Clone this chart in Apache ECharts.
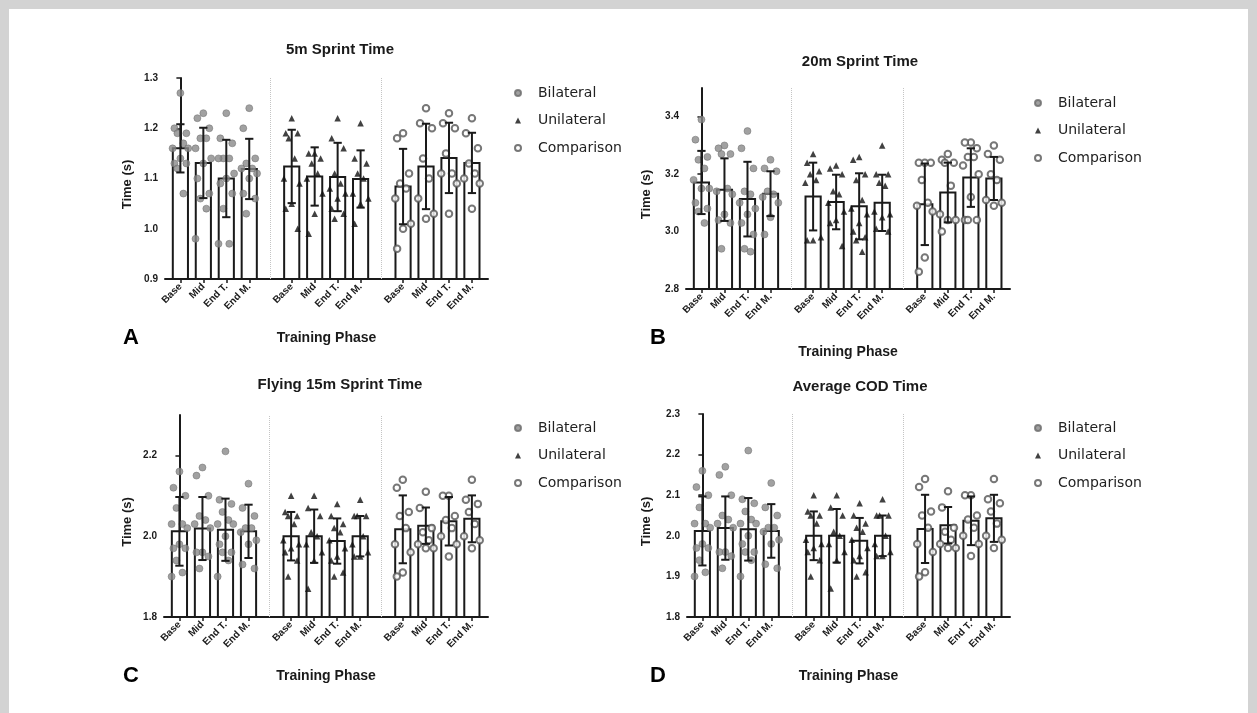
<!DOCTYPE html>
<html><head><meta charset="utf-8">
<script src="https://cdn.jsdelivr.net/npm/echarts@6/dist/echarts.min.js"></script>
<style>html,body{margin:0;padding:0;background:#fff}#c{width:1257px;height:713px}</style>
</head><body><div id="c"></div><script>
// ---------- data ----------
const phases = ['Base', 'Mid', 'End T.', 'End M.'];
const groupNames = ['Bilateral', 'Unilateral', 'Comparison'];
const panelTitles = ['5m Sprint Time', '20m Sprint Time', 'Flying 15m Sprint Time', 'Average COD Time'];
const panelLetters = ['A', 'B', 'C', 'D'];

// y ranges and tick labels
const sprint5Range = [0.9, 1.3];   const sprint5Ticks = [0.9, 1.0, 1.1, 1.2, 1.3];
const sprint20Range = [2.8, 3.5];  const sprint20Ticks = [2.8, 3.0, 3.2, 3.4];
const flying15Range = [1.8, 2.3];  const flying15Ticks = [1.8, 2.0, 2.2];
const codRange = [1.8, 2.3];       const codTicks = [1.8, 1.9, 2.0, 2.1, 2.2, 2.3];

// Panel A: 5m sprint (rows: Bilateral, Unilateral, Comparison; cols: phases)
const sprint5Means = [[1.160, 1.131, 1.100, 1.119], [1.124, 1.104, 1.103, 1.099], [1.084, 1.124, 1.141, 1.131]];
const sprint5SD = [[0.048, 0.070, 0.077, 0.060], [0.073, 0.058, 0.068, 0.057], [0.075, 0.085, 0.070, 0.060]];
const sprint5Bilateral = [
  [1.27, 1.20, 1.19, 1.19, 1.17, 1.16, 1.16, 1.14, 1.13, 1.13, 1.12, 1.07],
  [1.23, 1.22, 1.20, 1.18, 1.18, 1.16, 1.14, 1.13, 1.10, 1.07, 1.06, 1.04, 0.98],
  [1.23, 1.18, 1.17, 1.14, 1.14, 1.14, 1.11, 1.10, 1.09, 1.07, 1.04, 0.97, 0.97],
  [1.24, 1.20, 1.14, 1.13, 1.12, 1.12, 1.11, 1.10, 1.07, 1.06, 1.03]];
const sprint5Unilateral = [
  [1.22, 1.19, 1.19, 1.18, 1.14, 1.10, 1.09, 1.05, 1.04, 1.00],
  [1.15, 1.15, 1.14, 1.13, 1.11, 1.10, 1.07, 1.03, 0.99],
  [1.22, 1.18, 1.16, 1.11, 1.09, 1.08, 1.07, 1.06, 1.04, 1.03, 1.02],
  [1.21, 1.14, 1.13, 1.11, 1.10, 1.07, 1.06, 1.05, 1.01]];
const sprint5Comparison = [
  [1.19, 1.18, 1.11, 1.09, 1.08, 1.06, 1.01, 1.00, 0.96],
  [1.24, 1.21, 1.20, 1.14, 1.10, 1.06, 1.03, 1.02],
  [1.23, 1.21, 1.20, 1.15, 1.11, 1.11, 1.09, 1.03],
  [1.22, 1.19, 1.16, 1.13, 1.11, 1.10, 1.09, 1.04]];

// Panel B: 20m sprint
const sprint20Means = [[3.171, 3.146, 3.113, 3.132], [3.122, 3.103, 3.088, 3.100], [3.095, 3.136, 3.188, 3.185]];
const sprint20SD = [[0.110, 0.109, 0.130, 0.078], [0.118, 0.095, 0.115, 0.098], [0.142, 0.104, 0.102, 0.075]];
const sprint20Bilateral = [
  [3.39, 3.32, 3.26, 3.25, 3.22, 3.18, 3.15, 3.15, 3.10, 3.08, 3.07, 3.03],
  [3.30, 3.29, 3.27, 3.27, 3.15, 3.14, 3.13, 3.06, 3.04, 3.03, 2.94],
  [3.35, 3.29, 3.22, 3.14, 3.13, 3.10, 3.08, 3.06, 3.03, 2.99, 2.94, 2.93],
  [3.25, 3.22, 3.21, 3.14, 3.13, 3.12, 3.10, 3.05, 2.99]];
const sprint20Unilateral = [
  [3.27, 3.24, 3.21, 3.20, 3.18, 3.17, 2.98, 2.97, 2.97],
  [3.23, 3.22, 3.20, 3.14, 3.13, 3.10, 3.07, 3.04, 3.03, 2.95],
  [3.26, 3.25, 3.20, 3.18, 3.11, 3.08, 3.06, 3.03, 3.00, 2.98, 2.97, 2.93],
  [3.30, 3.20, 3.20, 3.17, 3.16, 3.07, 3.06, 3.05, 3.01, 3.00]];
const sprint20Comparison = [
  [3.24, 3.24, 3.24, 3.18, 3.10, 3.09, 3.07, 2.91, 2.86],
  [3.27, 3.25, 3.24, 3.24, 3.16, 3.06, 3.04, 3.04, 3.00],
  [3.31, 3.31, 3.29, 3.26, 3.26, 3.23, 3.20, 3.12, 3.04, 3.04, 3.04],
  [3.30, 3.27, 3.25, 3.20, 3.18, 3.11, 3.10, 3.09]];

// Panel C: flying 15m sprint
const flying15Means = [[2.012, 2.019, 2.016, 2.012], [2.000, 2.000, 1.988, 2.000], [2.017, 2.026, 2.037, 2.043]];
const flying15SD = [[0.085, 0.078, 0.077, 0.066], [0.060, 0.066, 0.056, 0.050], [0.084, 0.045, 0.060, 0.058]];
const flying15Bilateral = [
  [2.16, 2.12, 2.10, 2.07, 2.03, 2.03, 2.02, 1.98, 1.97, 1.97, 1.94, 1.91, 1.90],
  [2.17, 2.15, 2.10, 2.05, 2.04, 2.03, 2.02, 1.96, 1.96, 1.95, 1.92],
  [2.21, 2.09, 2.08, 2.06, 2.04, 2.03, 2.03, 2.00, 1.98, 1.96, 1.96, 1.94, 1.90],
  [2.13, 2.07, 2.05, 2.02, 2.02, 2.01, 1.99, 1.98, 1.93, 1.92]];
const flying15Unilateral = [
  [2.10, 2.06, 2.05, 2.05, 2.03, 1.99, 1.98, 1.97, 1.96, 1.94, 1.90],
  [2.10, 2.07, 2.05, 2.01, 2.00, 1.98, 1.96, 1.94, 1.87],
  [2.08, 2.05, 2.03, 2.02, 2.01, 1.99, 1.97, 1.95, 1.94, 1.91, 1.90],
  [2.09, 2.05, 2.05, 2.05, 2.00, 1.98, 1.96, 1.95, 1.95]];
const flying15Comparison = [
  [2.14, 2.12, 2.06, 2.05, 2.02, 1.98, 1.96, 1.91, 1.90],
  [2.11, 2.07, 2.02, 2.01, 1.99, 1.98, 1.97, 1.97],
  [2.10, 2.10, 2.05, 2.04, 2.02, 2.00, 1.98, 1.95],
  [2.14, 2.09, 2.08, 2.06, 2.03, 2.00, 1.99, 1.97]];

// Panel D: average COD (drawn identical to panel C in the source figure)
const codMeans = [[2.012, 2.019, 2.016, 2.012], [2.000, 2.000, 1.988, 2.000], [2.017, 2.026, 2.037, 2.043]];
const codSD = [[0.085, 0.078, 0.077, 0.066], [0.060, 0.066, 0.056, 0.050], [0.084, 0.045, 0.060, 0.058]];
const codBilateral = [
  [2.16, 2.12, 2.10, 2.07, 2.03, 2.03, 2.02, 1.98, 1.97, 1.97, 1.94, 1.91, 1.90],
  [2.17, 2.15, 2.10, 2.05, 2.04, 2.03, 2.02, 1.96, 1.96, 1.95, 1.92],
  [2.21, 2.09, 2.08, 2.06, 2.04, 2.03, 2.03, 2.00, 1.98, 1.96, 1.96, 1.94, 1.90],
  [2.13, 2.07, 2.05, 2.02, 2.02, 2.01, 1.99, 1.98, 1.93, 1.92]];
const codUnilateral = [
  [2.10, 2.06, 2.05, 2.05, 2.03, 1.99, 1.98, 1.97, 1.96, 1.94, 1.90],
  [2.10, 2.07, 2.05, 2.01, 2.00, 1.98, 1.96, 1.94, 1.87],
  [2.08, 2.05, 2.03, 2.02, 2.01, 1.99, 1.97, 1.95, 1.94, 1.91, 1.90],
  [2.09, 2.05, 2.05, 2.05, 2.00, 1.98, 1.96, 1.95, 1.95]];
const codComparison = [
  [2.14, 2.12, 2.06, 2.05, 2.02, 1.98, 1.96, 1.91, 1.90],
  [2.11, 2.07, 2.02, 2.01, 1.99, 1.98, 1.97, 1.97],
  [2.10, 2.10, 2.05, 2.04, 2.02, 2.00, 1.98, 1.95],
  [2.14, 2.09, 2.08, 2.06, 2.03, 2.00, 1.99, 1.97]];

// ---------- layout / style ----------
const panels = [
  { means: sprint5Means, sd: sprint5SD, pts: [sprint5Bilateral, sprint5Unilateral, sprint5Comparison], range: sprint5Range, ticks: sprint5Ticks },
  { means: sprint20Means, sd: sprint20SD, pts: [sprint20Bilateral, sprint20Unilateral, sprint20Comparison], range: sprint20Range, ticks: sprint20Ticks },
  { means: flying15Means, sd: flying15SD, pts: [flying15Bilateral, flying15Unilateral, flying15Comparison], range: flying15Range, ticks: flying15Ticks },
  { means: codMeans, sd: codSD, pts: [codBilateral, codUnilateral, codComparison], range: codRange, ticks: codTicks }
];
const layout = [
  { grid: { left: 165, top: 78, width: 323, height: 201 }, title: [340, 50], letter: [131, 338], legend: [509, 80], nameGap: 31, xNameGap: 52 },
  { grid: { left: 686, top: 88, width: 324, height: 201 }, title: [860, 62], letter: [658, 338], legend: [1029, 90], nameGap: 33, xNameGap: 56 },
  { grid: { left: 164, top: 415, width: 324, height: 202 }, title: [340, 385], letter: [131, 676], legend: [509, 415], nameGap: 30, xNameGap: 52 },
  { grid: { left: 687, top: 414, width: 323, height: 203 }, title: [860, 387], letter: [658, 676], legend: [1029, 415], nameGap: 34, xNameGap: 52 }
];
const GROUP_STEP = 4.85, X_MIN = -0.67, X_MAX = 13.4, BAR_W = 0.66, CAP_W = 0.36;
const JITTER = [0, -0.26, 0.26, -0.13, 0.13, -0.34, 0.34];
const INK = '#1a1a1a';
const FONT = 'Liberation Sans';

const xPos = (g, i) => g * GROUP_STEP + i;
const positions = [];
for (let g = 0; g < 3; g++) for (let i = 0; i < 4; i++) positions.push(+xPos(g, i).toFixed(3));
const labelFor = v => {
  let best = 0, d = Infinity;
  positions.forEach((p, k) => { if (Math.abs(p - v) < d) { d = Math.abs(p - v); best = k; } });
  return phases[best % 4];
};

const symbolStyle = [
  { symbol: 'circle', symbolSize: 7, itemStyle: { color: '#8a8a8a', borderColor: '#6a6a6a', borderWidth: 0.6 } },
  { symbol: 'triangle', symbolSize: 6.5, itemStyle: { color: '#111' } },
  { symbol: 'emptyCircle', symbolSize: 6.5, itemStyle: { color: '#555', borderWidth: 1.5 } }
];

function renderBar(params, api) {
  const x = api.value(0), m = api.value(1);
  const top = api.coord([x, m]);
  const cs = params.coordSys;
  const baseY = cs.y + cs.height;
  const w = api.size([BAR_W, 0])[0];
  return { type: 'rect', shape: { x: top[0] - w / 2, y: top[1], width: w, height: baseY - top[1] },
    style: { fill: '#fff', stroke: INK, lineWidth: 2 } };
}
function renderErr(params, api) {
  const x = api.value(0), m = api.value(1), s = api.value(2);
  const hi = api.coord([x, m + s]), lo = api.coord([x, m - s]);
  const cw = api.size([CAP_W, 0])[0];
  const st = { stroke: INK, lineWidth: 2 };
  return { type: 'group', children: [
    { type: 'line', shape: { x1: hi[0], y1: hi[1], x2: lo[0], y2: lo[1] }, style: st },
    { type: 'line', shape: { x1: hi[0] - cw / 2, y1: hi[1], x2: hi[0] + cw / 2, y2: hi[1] }, style: st },
    { type: 'line', shape: { x1: lo[0] - cw / 2, y1: lo[1], x2: lo[0] + cw / 2, y2: lo[1] }, style: st }
  ] };
}

const grid = [], xAxis = [], yAxis = [], series = [], legend = [], graphic = [];
panels.forEach((P, p) => {
  const L = layout[p];
  grid.push(Object.assign({ outerBoundsMode: 'none', containLabel: false }, L.grid));
  xAxis.push({
    gridIndex: p, type: 'value', min: X_MIN, max: X_MAX,
    axisLine: { show: true, onZero: false, lineStyle: { color: INK, width: 2 } },
    splitLine: { show: false },
    axisTick: { show: true, customValues: positions, length: 4, lineStyle: { color: INK, width: 1.5 } },
    axisLabel: { show: true, customValues: positions, rotate: 45, formatter: v => labelFor(v), fontWeight: 'bold',
      fontSize: 10, margin: 6, color: INK, fontFamily: FONT },
    name: 'Training Phase', nameLocation: 'middle', nameGap: L.xNameGap,
    nameTextStyle: { fontWeight: 'bold', fontSize: 14, color: INK, fontFamily: FONT }
  });
  yAxis.push({
    gridIndex: p, type: 'value', min: P.range[0], max: P.range[1],
    axisLine: { show: true, lineStyle: { color: INK, width: 2 } },
    splitLine: { show: false },
    axisTick: { show: true, customValues: P.ticks, length: 4, lineStyle: { color: INK, width: 1.5 } },
    axisLabel: { show: true, customValues: P.ticks, formatter: v => (+v).toFixed(1), fontWeight: 'bold',
      fontSize: 10, margin: 7, color: INK, fontFamily: FONT },
    name: 'Time (s)', nameLocation: 'middle', nameGap: L.nameGap,
    nameTextStyle: { fontWeight: 'bold', fontSize: 13, color: INK, fontFamily: FONT, padding: [0, 12, 0, 0] }
  });
  const barData = [];
  P.means.forEach((row, g) => row.forEach((m, i) => barData.push([xPos(g, i), m, P.sd[g][i]])));
  series.push({ type: 'custom', xAxisIndex: p, yAxisIndex: p, data: barData, renderItem: renderBar, z: 1, silent: true });
  groupNames.forEach((name, g) => {
    const data = [];
    P.pts[g].forEach((vals, i) => vals.forEach((v, k) => data.push([xPos(g, i) + JITTER[k % JITTER.length], v])));
    const s = Object.assign({ type: 'scatter', name, xAxisIndex: p, yAxisIndex: p, data, z: 2, silent: true }, symbolStyle[g]);
    if (g === 0) {
      s.markLine = { silent: true, symbol: 'none', label: { show: false },
        lineStyle: { color: '#c4c4c4', type: 'dotted', width: 1 },
        data: [{ xAxis: (xPos(0, 3) + xPos(1, 0)) / 2 }, { xAxis: (xPos(1, 3) + xPos(2, 0)) / 2 }] };
    }
    series.push(s);
  });
  series.push({ type: 'custom', xAxisIndex: p, yAxisIndex: p, data: barData, renderItem: renderErr, z: 3, silent: true });
  legend.push({ left: L.legend[0], top: L.legend[1], orient: 'vertical', itemGap: 11.5, itemWidth: 6, itemHeight: 6,
    data: groupNames, selectedMode: false,
    textStyle: { fontSize: 14, fontFamily: 'DejaVu Sans', color: '#222', lineHeight: 16, padding: [0, 0, 0, 12] } });
  graphic.push({ type: 'text', x: L.title[0], y: L.title[1], silent: true,
    style: { text: panelTitles[p], fill: INK, font: 'bold 15px "Liberation Sans"', textAlign: 'center', textVerticalAlign: 'middle' } });
  graphic.push({ type: 'text', x: L.letter[0], y: L.letter[1], silent: true,
    style: { text: panelLetters[p], fill: '#000', font: 'bold 22px "Liberation Sans"', textAlign: 'center', textVerticalAlign: 'middle' } });
});
// grey frame
graphic.push({ type: 'rect', shape: { x: 0, y: 0, width: 1257, height: 9 }, style: { fill: '#d3d3d3' }, silent: true });
graphic.push({ type: 'rect', shape: { x: 0, y: 0, width: 9, height: 713 }, style: { fill: '#d3d3d3' }, silent: true });
graphic.push({ type: 'rect', shape: { x: 1248, y: 0, width: 9, height: 713 }, style: { fill: '#d3d3d3' }, silent: true });

const chart = echarts.init(document.getElementById('c'), null, { renderer: 'canvas' });
chart.setOption({
  backgroundColor: '#fff', animation: false,
  textStyle: { fontFamily: FONT },
  grid, xAxis, yAxis, series, legend, graphic
});
</script></body></html>
